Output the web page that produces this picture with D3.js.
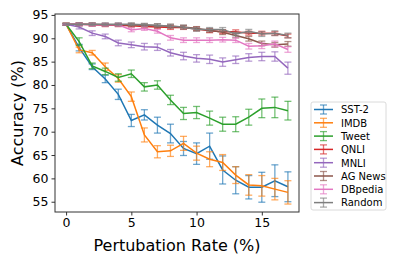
<!DOCTYPE html>
<html>
<head>
<meta charset="utf-8">
<script src="https://cdn.jsdelivr.net/npm/d3@7"></script>
<style>
  body { margin: 0; background: #fff; }
  svg { display: block; font-family: "DejaVu Sans", sans-serif; }
</style>
</head>
<body>
<svg id="chart" width="399" height="266"></svg>
<script>
// perturbation rates (%)
var rates = d3.range(0, 18);

var names = ["SST-2", "IMDB", "Tweet", "QNLI", "MNLI", "AG News", "DBpedia", "Random"];
var colors = ["#1f77b4", "#ff7f0e", "#2ca02c", "#d62728", "#9467bd", "#8c564b", "#e377c2", "#7f7f7f"];

// mean accuracy per rate
var sst2 = [93, 88, 83.9, 81.3, 78, 72.4, 73.6, 71.4, 69.6, 66.4, 65.3, 66.9, 61.8, 59.6, 58.1, 58.1, 59.5, 58.2];
var imdb = [93, 87.5, 86.9, 83.9, 81.4, 77.5, 69.3, 65.7, 65.9, 67.5, 65.4, 64.1, 63.4, 60.7, 58.6, 58.4, 57.7, 57.0];
var tweet = [93, 89.3, 84.1, 82.9, 81.6, 82.4, 79.6, 80, 76.8, 73.9, 74.1, 72.9, 71.6, 71.6, 73.1, 75, 75.2, 74.5];
var qnli = [93, 93, 92.9, 92.8, 92.8, 92.7, 92.5, 92.4, 92.3, 92.3, 92, 91.6, 91.4, 91.4, 91.1, 91.1, 91, 90.5];
var mnli = [93, 92.4, 91.1, 90.4, 89, 88.6, 88.2, 88.1, 86.9, 86.2, 85.7, 85.5, 84.9, 85.4, 85.9, 86.1, 86.1, 83.6];
var agnews = [93, 93, 93, 92.9, 92.9, 92.9, 92.8, 92.7, 92.6, 92.4, 92.1, 91.7, 91.3, 90.6, 89.9, 88.9, 88.6, 88.8];
var dbpedia = [93, 93, 92.9, 92.9, 92.9, 91.8, 92.1, 91.5, 90.1, 89.6, 89.6, 89.6, 89.7, 89.6, 88.3, 88.4, 88.8, 87.6];
var random = [93, 93, 93, 93, 93, 93, 92.9, 92.8, 92.6, 92.4, 91.9, 91.9, 91.9, 90.9, 91.5, 90.9, 91.1, 90.6];

// error bar half-widths
var sst2Err = [0.2, 0.7, 0.6, 0.8, 1.1, 1.3, 1.1, 1.7, 2, 1.5, 2.3, 2.8, 3, 2.9, 2.5, 3.2, 3.4, 3.2];
var imdbErr = [0.2, 0.6, 0.5, 0.8, 0.8, 1, 1.5, 1.3, 1.2, 1.5, 1.5, 1.6, 1.7, 1.8, 2.2, 2.2, 2.3, 2.5];
var tweetErr = [0.2, 0.8, 0.6, 0.7, 0.8, 0.8, 0.9, 0.9, 1, 1.3, 1.3, 1.5, 1.5, 1.6, 1.7, 2, 2.2, 2];
var qnliErr = [0.2, 0.3, 0.3, 0.3, 0.3, 0.3, 0.3, 0.3, 0.4, 0.4, 0.4, 0.4, 0.4, 0.4, 0.4, 0.4, 0.4, 0.4];
var mnliErr = [0.1, 0.4, 0.5, 0.5, 0.6, 0.6, 0.7, 0.7, 0.7, 0.8, 0.8, 0.9, 0.9, 0.8, 0.8, 0.9, 1.0, 1.3];
var agnewsErr = [0.2, 0.3, 0.3, 0.3, 0.3, 0.3, 0.3, 0.4, 0.4, 0.4, 0.4, 0.4, 0.5, 0.5, 0.5, 0.5, 0.5, 0.5];
var dbpediaErr = [0.2, 0.3, 0.3, 0.3, 0.3, 0.4, 0.4, 0.4, 0.5, 0.5, 0.5, 0.5, 0.5, 0.5, 0.6, 0.6, 0.6, 0.6];
var randomErr = [0.2, 0.3, 0.3, 0.3, 0.3, 0.3, 0.3, 0.3, 0.4, 0.4, 0.4, 0.4, 0.4, 0.4, 0.4, 0.5, 0.5, 0.5];

var yTicks = [55, 60, 65, 70, 75, 80, 85, 90, 95];
var xTicks = [0, 5, 10, 15];

var means = [sst2, imdb, tweet, qnli, mnli, agnews, dbpedia, random];
var errs = [sst2Err, imdbErr, tweetErr, qnliErr, mnliErr, agnewsErr, dbpediaErr, randomErr];

var series = names.map(function(n, i) {
    return {
        name: n,
        color: colors[i],
        values: rates.map(function(r, j) { return {x: r, y: means[i][j], e: errs[i][j]}; })
    };
});

var margins = {top: 14, bottom: 54, left: 55, right: 100};
var svg = d3.select("#chart");
var width = 399 - margins.left - margins.right,
    height = 266 - margins.top - margins.bottom;

var x = d3.scaleLinear().domain([-0.85, 17.85]).range([0, width]);
var y = d3.scaleLinear().domain([52.8, 95.2]).range([height, 0]);

var g = svg.append("g")
    .attr("transform", "translate(" + margins.left + "," + margins.top + ")");

var line = d3.line()
    .x(function(d) { return x(d.x); })
    .y(function(d) { return y(d.y); });

var cap = 3.5;

series.forEach(function(s) {
    var sg = g.append("g");
    sg.append("path")
        .datum(s.values)
        .attr("fill", "none")
        .attr("stroke", s.color)
        .attr("stroke-width", 1.5)
        .attr("d", line);

    var eb = sg.selectAll("g.err")
        .data(s.values)
        .enter().append("g")
        .attr("class", "err")
        .attr("stroke", s.color)
        .attr("stroke-opacity", 0.65)
        .attr("stroke-width", 1.3);
    eb.append("line")
        .attr("x1", function(d) { return x(d.x); })
        .attr("x2", function(d) { return x(d.x); })
        .attr("y1", function(d) { return y(d.y - d.e); })
        .attr("y2", function(d) { return y(d.y + d.e); });
    eb.append("line")
        .attr("x1", function(d) { return x(d.x) - cap; })
        .attr("x2", function(d) { return x(d.x) + cap; })
        .attr("y1", function(d) { return y(d.y - d.e); })
        .attr("y2", function(d) { return y(d.y - d.e); });
    eb.append("line")
        .attr("x1", function(d) { return x(d.x) - cap; })
        .attr("x2", function(d) { return x(d.x) + cap; })
        .attr("y1", function(d) { return y(d.y + d.e); })
        .attr("y2", function(d) { return y(d.y + d.e); });
});

// frame
g.append("rect")
    .attr("width", width)
    .attr("height", height)
    .attr("fill", "none")
    .attr("stroke", "#333")
    .attr("stroke-width", 1);

var xAxis = g.append("g")
    .attr("transform", "translate(0," + height + ")")
    .call(d3.axisBottom(x).tickValues(xTicks).tickSize(3.5).tickSizeOuter(0).tickPadding(3));
var yAxis = g.append("g")
    .call(d3.axisLeft(y).tickValues(yTicks).tickSize(3.5).tickSizeOuter(0).tickPadding(3));

[xAxis, yAxis].forEach(function(a) {
    a.select(".domain").remove();
    a.selectAll("line").attr("stroke", "#333");
    a.selectAll("text")
        .attr("fill", "#000")
        .style("font-family", "DejaVu Sans")
        .style("font-size", "12.5px");
});

svg.append("text")
    .attr("x", margins.left + x(8.5))
    .attr("y", 251)
    .attr("text-anchor", "middle")
    .style("font-size", "16px")
    .text("Pertubation Rate (%)");

svg.append("text")
    .attr("transform", "translate(23," + (margins.top + height / 2) + ") rotate(-90)")
    .attr("text-anchor", "middle")
    .style("font-size", "16px")
    .text("Accuracy (%)");

// legend
var legend = svg.append("g").attr("transform", "translate(311,102)");
legend.append("rect")
    .attr("width", 75)
    .attr("height", 108)
    .attr("rx", 2)
    .attr("fill", "#fff")
    .attr("stroke", "#d0d0d0")
    .attr("stroke-width", 0.8);

var items = legend.selectAll("g.item")
    .data(series)
    .enter().append("g")
    .attr("class", "item")
    .attr("transform", function(d, i) { return "translate(0," + (7.5 + i * 13.3) + ")"; });
items.append("line")
    .attr("x1", 3).attr("x2", 22).attr("y1", 0).attr("y2", 0)
    .attr("stroke", function(d) { return d.color; })
    .attr("stroke-width", 1.5);
items.append("line")
    .attr("x1", 12.5).attr("x2", 12.5).attr("y1", -4.5).attr("y2", 4.5)
    .attr("stroke", function(d) { return d.color; })
    .attr("stroke-opacity", 0.65).attr("stroke-width", 1.3);
items.append("line")
    .attr("x1", 9).attr("x2", 16).attr("y1", -4.5).attr("y2", -4.5)
    .attr("stroke", function(d) { return d.color; })
    .attr("stroke-opacity", 0.65).attr("stroke-width", 1.3);
items.append("line")
    .attr("x1", 9).attr("x2", 16).attr("y1", 4.5).attr("y2", 4.5)
    .attr("stroke", function(d) { return d.color; })
    .attr("stroke-opacity", 0.65).attr("stroke-width", 1.3);
items.append("text")
    .attr("x", 30)
    .attr("y", 3.8)
    .style("font-size", "10px")
    .attr("fill", "#000")
    .text(function(d) { return d.name; });
</script>
</body>
</html>
